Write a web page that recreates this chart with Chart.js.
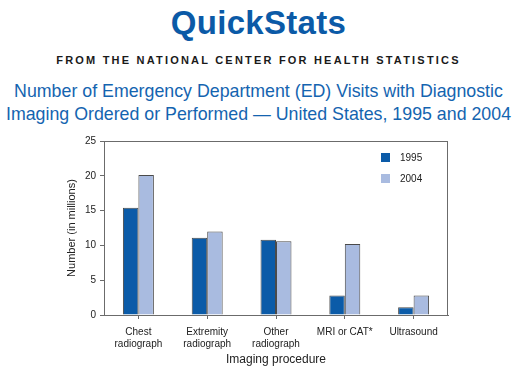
<!DOCTYPE html>
<html>
<head>
<meta charset="utf-8">
<script src="https://cdn.jsdelivr.net/npm/chart.js@4/dist/chart.umd.min.js"></script>
<style>
  html, body { margin: 0; padding: 0; background: #fff; }
  body { width: 517px; height: 374px; position: relative; overflow: hidden; font-family: "Liberation Sans", Arial, sans-serif; }
  .head { position: absolute; left: 0; width: 517px; text-align: center; white-space: nowrap; }
  #brand { top: 4px; font-size: 33px; font-weight: bold; color: #0b5aa7; letter-spacing: 0.3px; }
  #nchs { top: 54px; font-size: 11px; font-weight: bold; color: #1a1a1a; letter-spacing: 2.2px; }
  #title { top: 80px; font-size: 17.8px; line-height: 23px; color: #1464b0; }
  #wrap { position: absolute; left: 0; top: 125px; width: 517px; height: 249px; }
</style>
</head>
<body>
<div class="head" id="brand">QuickStats</div>
<div class="head" id="nchs">FROM THE NATIONAL CENTER FOR HEALTH STATISTICS</div>
<div class="head" id="title">Number of Emergency Department (ED) Visits with Diagnostic<br>Imaging Ordered or Performed — United States, 1995 and 2004</div>
<div id="wrap"><canvas id="chart" width="517" height="249"></canvas></div>
<script>
// categories and values (millions of visits)
const categories = [
  ['Chest', 'radiograph'],
  ['Extremity', 'radiograph'],
  ['Other', 'radiograph'],
  'MRI or CAT*',
  'Ultrasound'
];
const visits1995 = [15.4, 11.1, 10.8, 2.8, 1.1];
const visits2004 = [20.1, 12.0, 10.6, 10.2, 2.8];
const yearLabels = ['1995', '2004'];
const yTicks = [0, 5, 10, 15, 20, 25];

const FONT = 'Liberation Sans';

// box around the plot area + legend inside at top right
const frameAndLegend = {
  id: 'frameAndLegend',
  afterDraw(chart) {
    const { ctx, chartArea: a } = chart;
    ctx.save();
    ctx.strokeStyle = '#6b6b6b';
    ctx.lineWidth = 1;
    ctx.strokeRect(a.left + 0.5, a.top + 0.5, a.right - a.left - 1, a.bottom - a.top);
    chart.data.datasets.forEach(function(ds, i) {
      const x = 381, y = 28 + i * 21;
      ctx.fillStyle = ds.backgroundColor;
      ctx.fillRect(x, y, 9, 9);
      ctx.fillStyle = '#222';
      ctx.font = '10px ' + FONT;
      ctx.textBaseline = 'middle';
      ctx.fillText(ds.label, x + 19, y + 5);
    });
    ctx.restore();
  }
};

new Chart(document.getElementById('chart'), {
  type: 'bar',
  data: {
    labels: categories,
    datasets: [
      {
        label: yearLabels[0],
        data: visits1995,
        backgroundColor: '#0b5ba8',
        borderColor: '#4a4a4a',
        borderWidth: 1,
        borderSkipped: 'bottom'
      },
      {
        label: yearLabels[1],
        data: visits2004,
        backgroundColor: '#a9bbe0',
        borderColor: '#4a4a4a',
        borderWidth: 1,
        borderSkipped: 'bottom'
      }
    ]
  },
  options: {
    responsive: false,
    animation: false,
    categoryPercentage: 0.45,
    barPercentage: 1.0,
    layout: { padding: { top: 16, right: 69, left: 0, bottom: 0 } },
    plugins: {
      legend: { display: false },
      tooltip: { enabled: false }
    },
    scales: {
      x: {
        grid: { offset: false, drawOnChartArea: false, tickLength: 4, color: '#6b6b6b' },
        border: { color: '#6b6b6b' },
        ticks: { color: '#222', font: { size: 10, family: FONT }, maxRotation: 0, padding: 7 },
        title: {
          display: true,
          text: 'Imaging procedure',
          color: '#222',
          font: { size: 12, family: FONT },
          padding: { top: 2, bottom: 7 }
        },
        afterFit: function(scale) { scale.height = 59; }
      },
      y: {
        min: 0,
        max: 25,
        grid: { drawOnChartArea: false, tickLength: 4, color: '#6b6b6b' },
        border: { color: '#6b6b6b' },
        afterBuildTicks: function(scale) {
          scale.ticks = yTicks.map(function(v) { return { value: v }; });
        },
        ticks: { color: '#222', font: { size: 10, family: FONT }, padding: 4 },
        title: {
          display: true,
          text: 'Number (in millions)',
          color: '#222',
          font: { size: 11, family: FONT },
          padding: { top: 65, bottom: 0 }
        },
        afterFit: function(scale) { scale.width = 104; }
      }
    }
  },
  plugins: [frameAndLegend]
});
</script>
</body>
</html>
